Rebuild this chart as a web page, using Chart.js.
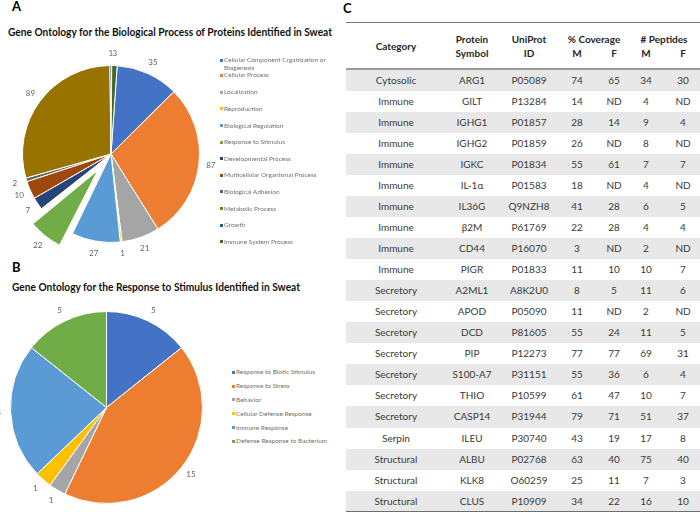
<!DOCTYPE html>
<html><head><meta charset="utf-8">
<script src="https://cdn.jsdelivr.net/npm/chart.js@4.4.0/dist/chart.umd.min.js"></script>
<style>
html,body{margin:0;padding:0;background:#fff;}
body{width:700px;height:512px;position:relative;overflow:hidden;font-family:Lato,'Open Sans',sans-serif;}
.abs{position:absolute;}
.panel{font-weight:bold;font-size:13px;line-height:13px;color:#000;}
.title{font-weight:bold;font-size:10.5px;line-height:10.5px;white-space:nowrap;color:#111;transform-origin:left center;}
.leg{position:absolute;font-size:6.5px;line-height:7.7px;color:#707070;white-space:nowrap;}
.mk{position:absolute;width:3px;height:3px;}
.row{position:absolute;left:346px;width:354px;}
.cell{position:absolute;width:80px;text-align:center;font-size:10px;color:#3a3a3a;white-space:nowrap;}
.hd{position:absolute;width:80px;text-align:center;font-size:10px;line-height:12px;font-weight:bold;color:#262626;white-space:nowrap;}
.rule{position:absolute;left:346px;width:354px;}
canvas{position:absolute;}
</style></head>
<body>
<div class="abs panel" style="left:12px;top:0px;">A</div>
<div class="abs panel" style="left:12px;top:261px;">B</div>
<div class="abs panel" style="left:343px;top:2px;">C</div>
<div id="titleA" class="abs title" style="left:8px;top:27px;">Gene Ontology for the Biological Process of Proteins Identified in Sweat</div>
<div id="titleB" class="abs title" style="left:12px;top:282px;">Gene Ontology for the Response to Stimulus Identified in Sweat</div>
<canvas id="pieA" width="262" height="262" style="left:-20.5px;top:22.5px;width:262px;height:262px;"></canvas>
<canvas id="pieB" width="233" height="233" style="left:-10.5px;top:290.5px;width:233px;height:233px;"></canvas>
<div id="legA"></div>
<div id="legB"></div>
<div id="table"></div>
<script>
// ---- Data ----
const labelsA = ['Cellular Component Crganization or Biogenesis','Cellular Process','Localization','Reproduction','Biological Regulation','Response to Stimulus','Developmental Process','Multicellular Organismal Process','Biological Adhesion','Metabolic Process','Growth','Immune System Process'];
const valuesA = [35,87,21,1,27,22,7,10,2,89,1,3];
const labelsB = ['Response to Biotic Stimulus','Response to Stress','Behavior','Cellular Defense Response','Immune Response','Defense Response to Bacterium'];
const valuesB = [5,15,1,1,8,5];

const tableCategory = ['Cytosolic','Immune','Immune','Immune','Immune','Immune','Immune','Immune','Immune','Immune','Secretory','Secretory','Secretory','Secretory','Secretory','Secretory','Secretory','Serpin','Structural','Structural','Structural'];
const tableSymbol = ['ARG1','GILT','IGHG1','IGHG2','IGKC','IL-1\u03b1','IL36G','\u03b22M','CD44','PIGR','A2ML1','APOD','DCD','PIP','S100-A7','THIO','CASP14','ILEU','ALBU','KLK8','CLUS'];
const tableUniprot = ['P05089','P13284','P01857','P01859','P01834','P01583','Q9NZH8','P61769','P16070','P01833','A8K2U0','P05090','P81605','P12273','P31151','P10599','P31944','P30740','P02768','O60259','P10909'];
const coverageM = ['74','14','28','26','55','18','41','22','3','11','8','11','55','77','55','61','79','43','63','25','34'];
const coverageF = ['65','ND','14','ND','61','ND','28','28','ND','10','5','ND','24','77','36','47','71','19','40','11','22'];
const peptidesM = ['34','4','9','8','7','4','6','4','2','10','11','2','11','69','6','10','51','17','75','7','16'];
const peptidesF = ['30','ND','4','ND','7','ND','5','4','ND','7','6','ND','5','31','4','7','37','8','40','3','10'];

// ---- Styles ----
const colorsA = ['#4472C4','#ED7D31','#A5A5A5','#FFC000','#5B9BD5','#70AD47','#264478','#9E480E','#636363','#997300','#255E91','#43682B'];
const colorsB = ['#4472C4','#ED7D31','#A5A5A5','#FFC000','#5B9BD5','#70AD47'];

function arcGeom(arc){
  const p = arc.getProps(['x','y','startAngle','endAngle','outerRadius'], true);
  const mid = (p.startAngle + p.endAngle) / 2;
  const t = (arc.options.offset || 0) / 4;
  const fix = 1 - Math.sin(Math.min(Math.PI, p.endAngle - p.startAngle));
  return {cx: p.x + Math.cos(mid)*t, cy: p.y + Math.sin(mid)*t, r: p.outerRadius + t*fix, mid, t, fix};
}

// exploded slice: keep its drawn radius slightly smaller than the rest (as in the original)
const explodeFix = {
  id:'explodeFix',
  afterDatasetsUpdate(chart, args, opts){
    const meta = chart.getDatasetMeta(0);
    meta.data.forEach(arc=>{
      const off = arc.options.offset || 0;
      if (off > 0){
        const t = off/4;
        const fix = 1 - Math.sin(Math.min(Math.PI, arc.endAngle - arc.startAngle));
        arc.outerRadius = arc.outerRadius - (opts.shrink || 0) - t*fix;
      }
    });
  }
};

const outLabels = {
  id:'outLabels',
  afterDatasetsDraw(chart, args, opts){
    const ctx = chart.ctx;
    const meta = chart.getDatasetMeta(0);
    const ds = chart.data.datasets[0];
    ctx.save();
    ctx.font = opts.font;
    ctx.fillStyle = opts.color;
    ctx.textAlign = 'center';
    ctx.textBaseline = 'middle';
    meta.data.forEach((arc,i)=>{
      const g = arcGeom(arc);
      const R = g.r + opts.gap;
      ctx.fillText(String(ds.data[i]), g.cx + Math.cos(g.mid)*R, g.cy + Math.sin(g.mid)*R);
    });
    ctx.restore();
  }
};

function makePie(id, labels, values, colors, rotation, explodeIndex, explodeOffset, padding){
  return new Chart(document.getElementById(id), {
    type:'pie',
    data:{labels:labels, datasets:[{data:values, backgroundColor:colors, borderColor:'#ffffff', borderWidth:1,
      offset: values.map((v,i)=> i === explodeIndex ? explodeOffset : 0)}]},
    options:{
      responsive:false, animation:false, devicePixelRatio:1,
      rotation:rotation,
      layout:{padding:padding},
      plugins:{legend:{display:false}, tooltip:{enabled:false},
        explodeFix:{shrink:4.5},
        outLabels:{font:'8px Lato, sans-serif', color:'#5f5f5f', gap:12}}
    },
    plugins:[explodeFix, outLabels]
  });
}
makePie('pieA', labelsA, valuesA, colorsA, 4, 5, 84, 0);
makePie('pieB', labelsB, valuesB, colorsB, 0, -1, 0, 20);

// ---- Legends ----
function legend(container, labels, colors, xMark, xText, yPos){
  const c = document.getElementById(container);
  labels.forEach((lab,i)=>{
    const y = yPos(i);
    const m = document.createElement('div');
    m.className='mk'; m.style.left=(xMark-1.5)+'px'; m.style.top=(y-1.5)+'px'; m.style.background=colors[i];
    c.appendChild(m);
    const t = document.createElement('div');
    t.className='leg'; t.style.left=xText+'px'; t.style.top=(y-3.85)+'px';
    if (i===0 && container==='legA') { t.innerHTML='Cellular Component Crganization or<br>Biogenesis'; }
    else t.textContent = lab;
    c.appendChild(t);
  });
}
legend('legA', labelsA, colorsA, 221, 224, i => i===0 ? 60 : (i===1 ? 75 : 92.3 + (i-2)*16.6));
legend('legB', labelsB, colorsB, 233, 236, i => 372.3 + i*13.8);

// ---- Table ----
const tb = document.getElementById('table');
const colX = [396,472,529,577,614,646,683];
function rule(y,h,col){ const d=document.createElement('div'); d.className='rule'; d.style.top=y+'px'; d.style.height=h+'px'; d.style.background=col; tb.appendChild(d); }
function hd(text,cx,cy,w){ const d=document.createElement('div'); d.className='hd'; if(w){d.style.width=w+'px';} const ww=w||80; d.style.left=(cx-ww/2)+'px'; d.style.top=(cy-6)+'px'; d.textContent=text; tb.appendChild(d); }
rule(21.5,1.2,'#7a7a7a');
hd('Category',colX[0],46);
hd('Protein',colX[1],39); hd('Symbol',colX[1],53);
hd('UniProt',colX[2],39); hd('ID',colX[2],53);
hd('% Coverage',594,39,90); hd('M',colX[3],53); hd('F',colX[4],53);
hd('# Peptides',664,39,90); hd('M',colX[5],53); hd('F',colX[6],53);
const rowH = 21.06, row0 = 69.5;
tableCategory.forEach((cat,r)=>{
  const row = document.createElement('div');
  row.className='row'; row.style.top=(row0 + r*rowH)+'px'; row.style.height=rowH+'px';
  if (r%2===0) row.style.background='#e8e8e8';
  const vals=[cat, tableSymbol[r], tableUniprot[r], coverageM[r], coverageF[r], peptidesM[r], peptidesF[r]];
  vals.forEach((v,k)=>{
    const s=document.createElement('div'); s.className='cell';
    s.style.left=(colX[k]-346-40)+'px'; s.style.top='0px'; s.style.lineHeight=rowH+'px';
    s.textContent=v; row.appendChild(s);
  });
  tb.appendChild(row);
});
rule(67.5,2,'#9a9a9a');
rule(row0 + tableCategory.length*rowH - 0.5, 2, '#6e6e6e');

// fit titles
function fit(id,w){ const el=document.getElementById(id); const cw=el.getBoundingClientRect().width; el.style.transform='scaleX('+(w/cw)+')'; }
fit('titleA',324); fit('titleB',288);
</script>
</body></html>
